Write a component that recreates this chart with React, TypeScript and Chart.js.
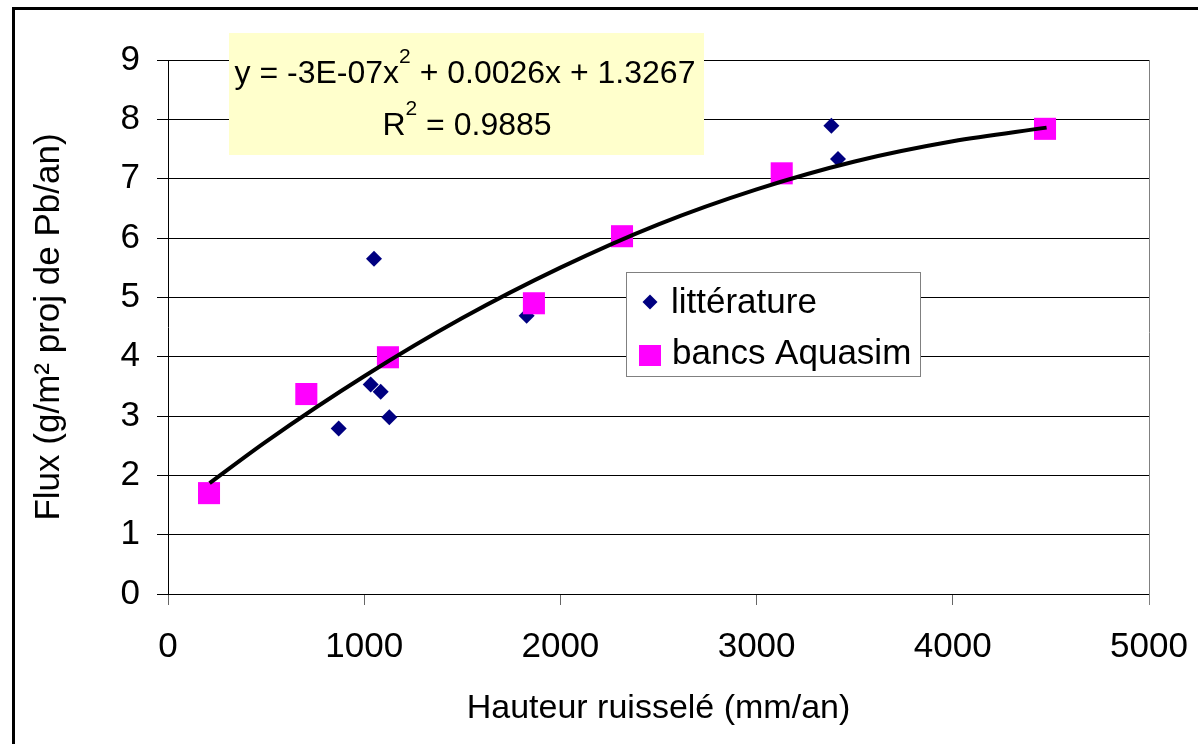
import React, { useEffect, useRef } from "react";
import { Chart, registerables } from "chart.js";

Chart.register(...registerables);

const litteratureX = [870, 1050, 1033, 1084, 1128, 1828, 3381, 3415];
const litteratureY = [2.79, 5.65, 3.53, 3.41, 2.98, 4.69, 7.89, 7.33];

const aquasimX = [209, 705, 1121, 1865, 2314, 3128, 4470];
const aquasimY = [1.7, 3.37, 3.99, 4.9, 6.03, 7.09, 7.84];

// trend curve
const trendX = [212, 500, 1000, 1500, 2000, 2500, 3000, 3500, 4000, 4478];
const trendY = [1.87, 2.57, 3.67, 4.65, 5.5, 6.23, 6.82, 7.29, 7.63, 7.86];

const xTicks = [0, 1000, 2000, 3000, 4000, 5000];
const yTicks = [0, 1, 2, 3, 4, 5, 6, 7, 8, 9];

const legendLabels = ["littérature", "bancs Aquasim"];
const equationParts = ["y = -3E-07x", "2", " + 0.0026x + 1.3267"];
const r2Parts = ["R", "2", " = 0.9885"];
const xTitle = "Hauteur ruisselé (mm/an)";
const yTitle = "Flux (g/m² proj de Pb/an)";

const FONT = '"Liberation Sans", Arial, sans-serif';
const NAVY = "#000080";
const MAGENTA = "#FF00FF";

const pairs = (xs: number[], ys: number[]) => xs.map((x, i) => ({ x, y: ys[i] }));

const decorPlugin = {
  id: "decor",
  afterDatasetsDraw(chart: any) {
    const ctx = chart.ctx as CanvasRenderingContext2D;
    const area = chart.chartArea;
    ctx.save();
    // right border of plot area
    ctx.strokeStyle = "#808080";
    ctx.lineWidth = 1;
    ctx.beginPath();
    ctx.moveTo(Math.round(area.right) + 0.5, area.top);
    ctx.lineTo(Math.round(area.right) + 0.5, area.bottom + 11);
    ctx.stroke();

    // equation box
    ctx.fillStyle = "#FFFFCC";
    ctx.fillRect(229, 33, 475, 122);
    const drawParts = (parts: string[], baseline: number, cx: number) => {
      const big = "32px " + FONT;
      const small = "21px " + FONT;
      ctx.font = big;
      const w0 = ctx.measureText(parts[0]).width;
      const w2 = ctx.measureText(parts[2]).width;
      ctx.font = small;
      const w1 = ctx.measureText(parts[1]).width;
      let x = cx - (w0 + w1 + w2) / 2;
      ctx.fillStyle = "#000";
      ctx.textBaseline = "alphabetic";
      ctx.textAlign = "left";
      ctx.font = big;
      ctx.fillText(parts[0], x, baseline);
      x += w0;
      ctx.font = small;
      ctx.fillText(parts[1], x, baseline - 20);
      x += w1;
      ctx.font = big;
      ctx.fillText(parts[2], x, baseline);
    };
    drawParts(equationParts, 83, 465);
    drawParts(r2Parts, 135, 467);

    // legend box
    ctx.fillStyle = "#fff";
    ctx.fillRect(626, 272, 295, 105);
    ctx.strokeStyle = "#808080";
    ctx.lineWidth = 1;
    ctx.strokeRect(626.5, 272.5, 294, 104);
    // diamond
    ctx.fillStyle = NAVY;
    ctx.beginPath();
    ctx.moveTo(650, 294.5);
    ctx.lineTo(657.5, 302);
    ctx.lineTo(650, 309.5);
    ctx.lineTo(642.5, 302);
    ctx.closePath();
    ctx.fill();
    // square
    ctx.fillStyle = MAGENTA;
    ctx.fillRect(639, 345, 22, 21);
    ctx.fillStyle = "#000";
    ctx.font = "35px " + FONT;
    ctx.textAlign = "left";
    ctx.textBaseline = "alphabetic";
    ctx.fillText(legendLabels[0], 671, 313);
    ctx.fillText(legendLabels[1], 672, 364);

    // outer frame
    ctx.strokeStyle = "#000";
    ctx.lineWidth = 3;
    ctx.beginPath();
    ctx.moveTo(13.5, 760);
    ctx.lineTo(13.5, 8.5);
    ctx.lineTo(1210, 8.5);
    ctx.stroke();
    ctx.restore();
  },
};

export default function App() {
  const ref = useRef<HTMLCanvasElement | null>(null);
  useEffect(() => {
    if (!ref.current) return;
    const chart = new Chart(ref.current, {
      type: "scatter",
      data: {
        datasets: [
          {
            type: "line",
            label: "trend",
            data: pairs(trendX, trendY),
            borderColor: "#000",
            borderWidth: 4,
            pointRadius: 0,
            fill: false,
            cubicInterpolationMode: "monotone",
          } as any,
          {
            label: legendLabels[1],
            data: pairs(aquasimX, aquasimY),
            pointStyle: "rect",
            pointRadius: 15.6,
            backgroundColor: MAGENTA,
            borderColor: MAGENTA,
            borderWidth: 0,
          },
          {
            label: legendLabels[0],
            data: pairs(litteratureX, litteratureY),
            pointStyle: "rectRot",
            pointRadius: 8,
            backgroundColor: NAVY,
            borderColor: NAVY,
            borderWidth: 0,
          },
        ],
      },
      options: {
        responsive: false,
        animation: false,
        layout: { padding: { left: 16, top: 60, right: 49, bottom: 10 } },
        plugins: {
          legend: { display: false },
          title: { display: false },
          tooltip: { enabled: false },
        },
        scales: {
          x: {
            type: "linear",
            min: 0,
            max: 5000,
            afterBuildTicks: (scale: any) => {
              scale.ticks = xTicks.map((v) => ({ value: v }));
            },
            afterFit: (scale: any) => {
              scale.height = 140;
              scale.paddingLeft = 0;
              scale.paddingRight = 0;
            },
            grid: {
              drawOnChartArea: false,
              drawTicks: true,
              tickLength: 11,
              color: "#666",
            },
            border: { color: "#000", width: 1 },
            ticks: {
              color: "#000",
              font: { family: FONT, size: 35 },
              padding: 21,
              maxRotation: 0,
              autoSkip: false,
              callback: (v: any) => String(v),
            },
            title: {
              display: true,
              text: xTitle,
              color: "#000",
              font: { family: FONT, size: 34 },
              padding: { top: 0, bottom: 5 },
            },
          },
          y: {
            type: "linear",
            min: 0,
            max: 9,
            afterBuildTicks: (scale: any) => {
              scale.ticks = yTicks.map((v) => ({ value: v }));
            },
            afterFit: (scale: any) => {
              scale.width = 152;
              scale.paddingTop = 0;
              scale.paddingBottom = 0;
            },
            grid: {
              drawTicks: true,
              tickLength: 11,
              color: "#000",
            },
            border: { color: "#000", width: 1 },
            ticks: {
              color: "#000",
              font: { family: FONT, size: 35 },
              padding: 17,
              autoSkip: false,
              callback: (v: any) => String(v),
            },
            title: {
              display: true,
              text: yTitle,
              color: "#000",
              font: { family: FONT, size: 35 },
              padding: { top: 12, bottom: 0 },
            },
          },
        },
      },
      plugins: [decorPlugin],
    });
    return () => chart.destroy();
  }, []);
  return (
    <div style={{ position: "fixed", left: 0, top: 0, width: 1198, height: 744, background: "#fff" }}>
      <canvas ref={ref} width={1198} height={744} style={{ width: 1198, height: 744, display: "block" }} />
    </div>
  );
}
